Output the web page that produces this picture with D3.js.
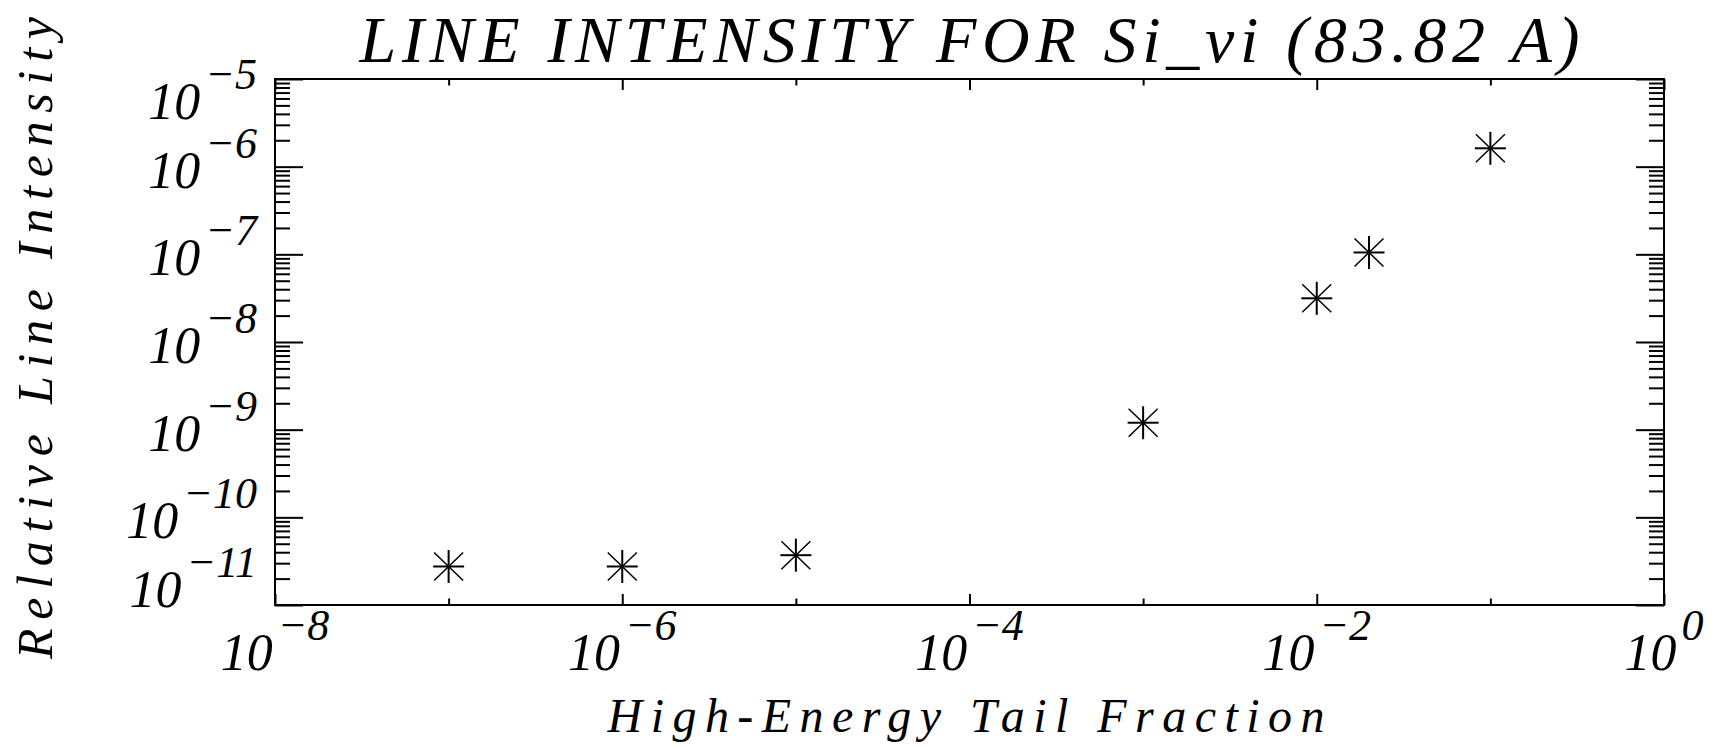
<!DOCTYPE html>
<html>
<head>
<meta charset="utf-8">
<script src="https://cdn.jsdelivr.net/npm/d3@7"></script>
<style>
  body { margin: 0; background: #fff; }
  text { font-family: "Liberation Serif", "Times New Roman", serif; font-style: italic; fill: #000; }
</style>
</head>
<body>
<svg width="1713" height="748"></svg>
<script>
const svg = d3.select('svg')

// data
const tailFraction = [1e-7, 1e-6, 1e-5, 1e-3, 1e-2, 2e-2, 1e-1]
const lineIntensity = [2.75e-11, 2.75e-11, 3.7e-11, 1.2e-9, 3.15e-8, 1.05e-7, 1.62e-6]

// tick values
const xLabelTicks = [1e-8, 1e-6, 1e-4, 1e-2, 1]
const xOddTicks = [1e-7, 1e-5, 1e-3, 1e-1]
const yMajorTicks = [1e-11, 1e-10, 1e-9, 1e-8, 1e-7, 1e-6, 1e-5]

const titleText = 'LINE INTENSITY FOR Si_vi (83.82 A)'
const xTitle = 'High-Energy Tail Fraction'
const yTitle = 'Relative Line Intensity'

// plot box
const boxLeft = 275, boxRight = 1664, boxTop = 79, boxBottom = 605

const x = d3.scaleLog().domain([1e-8, 1]).range([boxLeft, boxRight])
const y = d3.scaleLog().domain([1e-11, 1e-5]).range([boxBottom, boxTop])

// minor y ticks: 2..9 x 10^n from the scale itself
const yMinorTicks = y.ticks().filter(v => !yMajorTicks.some(m => Math.abs(v / m - 1) < 1e-6))

// draw a set of inward ticks with a d3 axis, no domain line, no labels
function ticks(axisFn, scale, values, size, tx, ty) {
  const g = svg.append('g')
    .attr('transform', `translate(${tx},${ty})`)
    .call(axisFn(scale).tickValues(values).tickSizeInner(-size).tickSizeOuter(0).tickFormat(''))
  g.select('.domain').remove()
  g.selectAll('line').attr('stroke', '#000').attr('stroke-width', 2)
}

ticks(d3.axisBottom, x, xLabelTicks, 11, 0, boxBottom)
ticks(d3.axisBottom, x, xOddTicks, 6.5, 0, boxBottom)
ticks(d3.axisTop, x, xLabelTicks, 11, 0, boxTop)
ticks(d3.axisTop, x, xOddTicks, 6.5, 0, boxTop)
ticks(d3.axisLeft, y, yMajorTicks, 28, boxLeft, 0)
ticks(d3.axisLeft, y, yMinorTicks, 15, boxLeft, 0)
ticks(d3.axisRight, y, yMajorTicks, 28, boxRight, 0)
ticks(d3.axisRight, y, yMinorTicks, 15, boxRight, 0)

// frame
svg.append('rect')
  .attr('x', boxLeft).attr('y', boxTop)
  .attr('width', boxRight - boxLeft).attr('height', boxBottom - boxTop)
  .attr('fill', 'none').attr('stroke', '#000').attr('stroke-width', 2)

// "10" with a raised exponent
function powerLabel(sel, v) {
  const e = Math.round(Math.log10(v))
  sel.append('tspan').text('10')
  sel.append('tspan')
    .attr('font-size', 44)
    .attr('dx', 5)
    .attr('dy', -30)
    .text(e < 0 ? '\u2212' + (-e) : String(e))
}

// x tick labels
svg.append('g').selectAll('text')
  .data(xLabelTicks)
  .enter().append('text')
    .attr('x', d => x(d))
    .attr('y', 670)
    .attr('text-anchor', 'middle')
    .attr('font-size', 52)
    .each(function (d) { powerLabel(d3.select(this), d) })

// y tick labels (end labels pulled inward like the original)
svg.append('g').selectAll('text')
  .data(yMajorTicks)
  .enter().append('text')
    .attr('x', 257)
    .attr('y', d => Math.min(Math.max(y(d) + 21, boxTop + 40), boxBottom + 2))
    .attr('text-anchor', 'end')
    .attr('font-size', 52)
    .each(function (d) { powerLabel(d3.select(this), d) })

// markers: asterisks
const star = svg.append('g').selectAll('g')
  .data(tailFraction.map((v, i) => [v, lineIntensity[i]]))
  .enter().append('g')
    .attr('transform', d => `translate(${x(d[0])},${y(d[1])})`)
    .attr('stroke', '#000')
star.append('line').attr('x1', -15.5).attr('x2', 15.5).attr('y1', 0).attr('y2', 0).attr('stroke-width', 2)
star.append('line').attr('x1', 0).attr('x2', 0).attr('y1', -16.5).attr('y2', 16.5).attr('stroke-width', 2)
star.append('line').attr('x1', -14.5).attr('x2', 14.5).attr('y1', -14).attr('y2', 14).attr('stroke-width', 1.5)
star.append('line').attr('x1', -14.5).attr('x2', 14.5).attr('y1', 14).attr('y2', -14).attr('stroke-width', 1.5)

// titles
svg.append('text')
  .attr('x', (boxLeft + boxRight) / 2).attr('y', 62)
  .attr('text-anchor', 'middle')
  .attr('font-size', 66)
  .attr('textLength', 1220).attr('lengthAdjust', 'spacing')
  .text(titleText)

svg.append('text')
  .attr('x', 966).attr('y', 732)
  .attr('text-anchor', 'middle')
  .attr('font-size', 48)
  .attr('textLength', 717).attr('lengthAdjust', 'spacing')
  .text(xTitle)

svg.append('text')
  .attr('transform', 'translate(52,338) rotate(-90)')
  .attr('text-anchor', 'middle')
  .attr('font-size', 50)
  .attr('textLength', 642).attr('lengthAdjust', 'spacing')
  .text(yTitle)
</script>
</body>
</html>
